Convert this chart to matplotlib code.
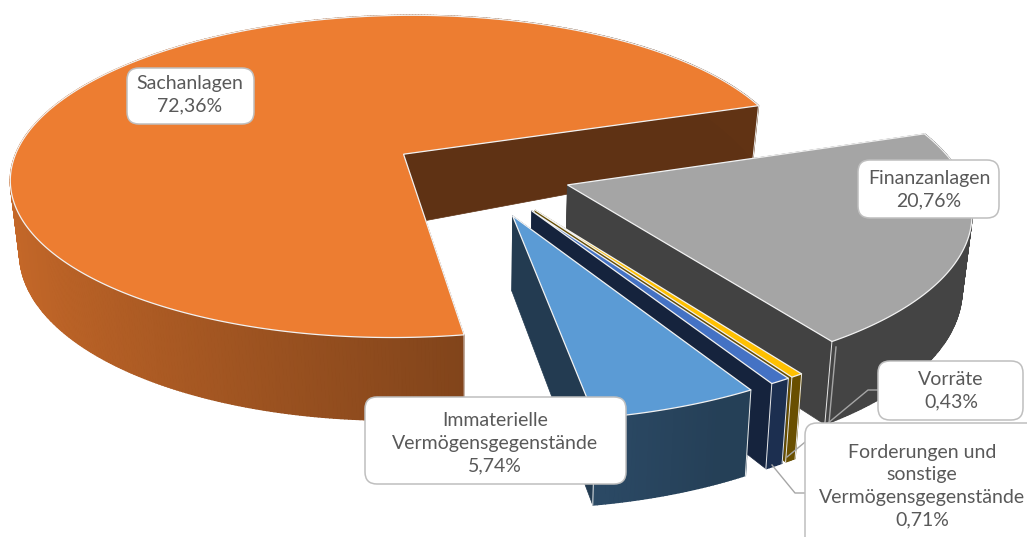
"""3D exploded pie of asset shares, drawn by hand as matplotlib has no 3D pie."""

import numpy as np
import matplotlib

matplotlib.use("Agg")
import matplotlib.pyplot as plt
from matplotlib.patches import FancyBboxPatch

# data, counter-clockwise on screen starting at Sachanlagen
names = [
    "Sachanlagen",
    "Immaterielle\nVermögensgegenstände",
    "Forderungen und\nsonstige\nVermögensgegenstände",
    "Vorräte",
    "Finanzanlagen",
]
shares = [72.36, 5.74, 0.71, 0.43, 20.76]
colors = ["#ED7D31", "#5B9BD5", "#4472C4", "#FFC000", "#A5A5A5"]
wall_shades = [0.40, 0.38, 0.31, 0.40, 0.40]
explode = [0.215, 0.275, 0.27, 0.27, 0.245]

# label boxes: left, top, right, bottom in pixels
boxes = [
    (127, 68, 254, 124),
    (365, 397, 626, 484),
    (805, 423, 1040, 550),
    (878, 361, 1023, 420),
    (858, 160, 999, 218),
]
text_centers = [(190, 95), (495, 443), (922, 486), (951, 391), (929, 190)]

# projection
CX, CY = 475.0, 172.0
RX, RY = 394.0, 163.0
PERSP = 0.14
START_ANGLE = 18.7
DRAW_ORDER = [0, 4, 3, 2, 1]


def project(u, v):
    s = 1.0 / (1.0 - PERSP * v)
    return CX + RX * u * s, CY + RY * v * s


def lower(u, v):
    """Same point on the bottom face of the disc."""
    x, y = project(u, v)
    return CX + (x - CX) * 0.98, y + 72 + 12 * v + 39 * np.minimum(v + 0.1, 0)


def shade(color, factor):
    rgb = np.array(matplotlib.colors.to_rgb(color))
    return tuple(rgb * factor)


def draw_slice(ax, a0, a1, offset, color, wall_shade):
    mid = np.radians((a0 + a1) / 2)
    ou = offset * np.cos(mid)
    ov = -offset * np.sin(mid)
    t = np.radians(np.linspace(a0, a1, max(int(a1 - a0) * 2, 6)))
    us = ou + np.cos(t)
    vs = ov - np.sin(t)

    # flat walls first
    wall = shade(color, wall_shade)
    for i in (0, -1):
        x0, y0 = project(ou, ov)
        x1, y1 = project(us[i], vs[i])
        x2, y2 = lower(us[i], vs[i])
        x3, y3 = lower(ou, ov)
        ax.fill(
            [x0, x1, x2, x3],
            [y0, y1, y2, y3],
            facecolor=wall,
            edgecolor=wall,
            lw=0.5,
            zorder=2,
        )

    # rim as narrow strips to get the shading across it
    xt, yt = project(us, vs)
    xb, yb = lower(us, vs)
    ax.fill(
        np.r_[xt, xb[::-1]],
        np.r_[yt, yb[::-1]],
        facecolor=shade(color, 0.45),
        lw=0,
        zorder=2,
    )
    for i in range(len(t) - 1):
        fc = shade(color, max(0.41, 0.54 - 0.25 * us[i : i + 2].mean()))
        ax.fill(
            [xt[i], xt[i + 1], xb[i + 1], xb[i]],
            [yt[i], yt[i + 1], yb[i + 1], yb[i]],
            facecolor=fc,
            edgecolor=fc,
            lw=1.0,
            zorder=2,
        )
    for i in (0, -1):
        ax.plot([xt[i], xb[i]], [yt[i], yb[i]], color="#E8E8E8", lw=0.7, zorder=2)

    # top face
    xf, yf = project(np.r_[ou, us], np.r_[ov, vs])
    ax.fill(xf, yf, facecolor=color, edgecolor="#F2F2F2", lw=0.9, zorder=2)


fig = plt.figure(figsize=(10.27, 5.37), dpi=100)
ax = fig.add_axes([0, 0, 1, 1])
ax.set_xlim(0, 1027)
ax.set_ylim(537, 0)
ax.axis("off")

stops = START_ANGLE + np.r_[0, np.cumsum(np.array(shares) * 3.6)]
for i in DRAW_ORDER:
    draw_slice(ax, stops[i], stops[i + 1], explode[i], colors[i], wall_shades[i])

# leader lines
leader = dict(color="#A6A6A6", lw=1.0, zorder=3)
ax.plot([836, 829], [347, 423], **leader)
ax.plot([878, 868, 787], [390, 390, 457], **leader)
ax.plot([772, 795, 805], [465, 493, 493], **leader)

for name, share, box, center in zip(names, shares, boxes, text_centers):
    left, top, right, bottom = box
    ax.add_patch(
        FancyBboxPatch(
            (left + 12, top + 12),
            right - left - 24,
            bottom - top - 24,
            boxstyle="round,pad=12,rounding_size=12",
            facecolor="white",
            edgecolor="#BFBFBF",
            lw=1.1,
            zorder=4,
        )
    )
    label = name + "\n" + f"{share:.2f}".replace(".", ",") + "%"
    ax.text(
        center[0],
        center[1],
        label,
        ha="center",
        va="center",
        family="Lato",
        fontsize=14,
        color="#595959",
        linespacing=1.4,
        zorder=5,
    )

fig.savefig("out.png", dpi=100)
plt.close(fig)
